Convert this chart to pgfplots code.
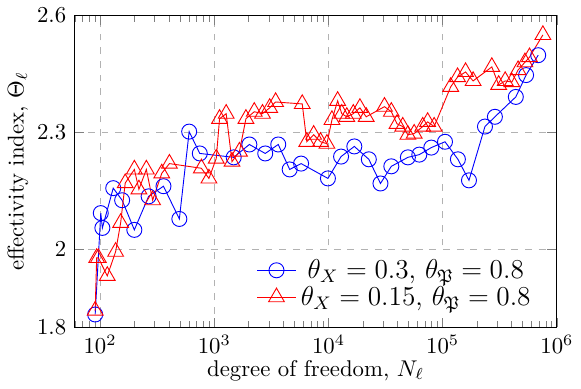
\documentclass[border=0pt]{standalone}
\usepackage{pgfplots}
\usepackage{pgfplotstable}
\usepackage{amssymb}
\pgfplotsset{compat=1.18}
\pgfplotstableread{
lx y
1.957 1.833
2.006 2.093
2.02 2.055
2.115 2.157
2.193 2.126
2.30 2.05
2.425 2.136
2.555 2.162
2.694 2.078
2.78 2.302
2.873 2.246
3.17 2.236
3.307 2.269
3.446 2.246
3.56 2.269
3.66 2.205
3.76 2.22
3.995 2.182
4.11 2.238
4.226 2.264
4.353 2.231
4.455 2.169
4.55 2.213
4.695 2.236
4.795 2.243
4.90 2.261
5.02 2.276
5.133 2.231
5.23 2.177
5.37 2.315
5.457 2.34
5.64 2.391
5.73 2.447
5.836 2.498
}\blue
\pgfplotstableread{
lx y
1.957 1.843
1.970 1.978
1.985 1.978
2.063 1.932
2.136 1.994
2.18 2.068
2.22 2.17
2.30 2.205
2.34 2.154
2.405 2.205
2.46 2.126
2.54 2.195
2.607 2.22
2.887 2.208
2.953 2.182
3.017 2.233
3.046 2.335
3.104 2.348
3.155 2.225
3.22 2.251
3.277 2.335
3.35 2.353
3.422 2.348
3.485 2.363
3.537 2.378
3.77 2.373
3.81 2.276
3.87 2.294
3.93 2.276
3.986 2.271
4.03 2.332
4.08 2.381
4.116 2.348
4.16 2.34
4.217 2.348
4.275 2.363
4.33 2.34
4.49 2.366
4.55 2.353
4.60 2.322
4.65 2.315
4.695 2.294
4.75 2.297
4.825 2.315
4.868 2.327
4.925 2.315
5.07 2.417
5.13 2.442
5.20 2.455
5.266 2.432
5.43 2.468
5.49 2.422
5.547 2.432
5.605 2.429
5.66 2.46
5.72 2.48
5.76 2.493
5.877 2.55
}\red
\begin{document}
\begin{tikzpicture}
\begin{axis}[
  scale only axis, width=212pt, height=137pt,
  xmode=log, xmin=59.4, xmax=1e6,
  ymin=1.8, ymax=2.6, ytick={1.8,2,2.3,2.6},
  yticklabels={1.8,2,2.3,2.6},
  grid=major, grid style={dashed,gray!60},
  xlabel={degree of freedom, $N_\ell$},
  ylabel={effectivity index, $\Theta_\ell$},
  xlabel style={yshift=4pt}, ylabel style={yshift=-3pt},
  legend pos=south east,
  legend style={font=\large, draw=none, fill=white, row sep=-2pt},
]
\addplot[blue, mark=o, mark size=3.3pt] table[x expr=10^\thisrow{lx}, y=y]{\blue};
\addlegendentry{$\theta_X=0.3$, $\theta_{\mathfrak{P}}=0.8$}
\addplot[red, mark=triangle, mark size=4pt] table[x expr=10^\thisrow{lx}, y=y]{\red};
\addlegendentry{$\theta_X=0.15$, $\theta_{\mathfrak{P}}=0.8$}
\end{axis}
\end{tikzpicture}
\end{document}
